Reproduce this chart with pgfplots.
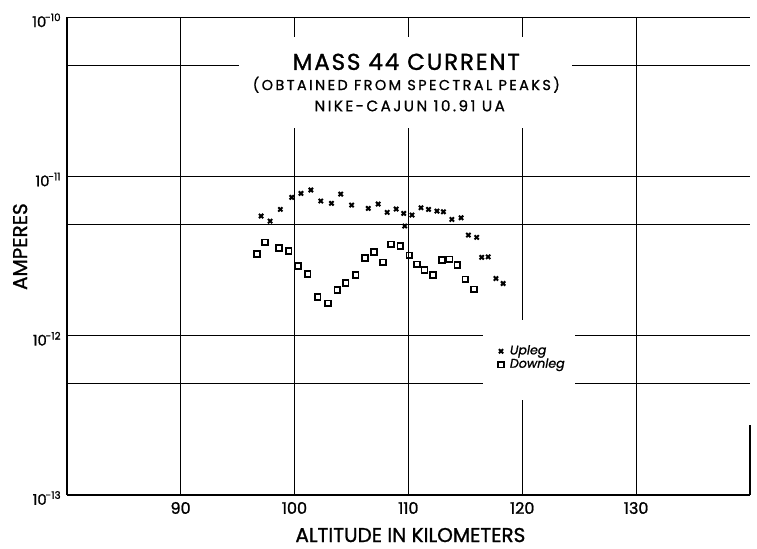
\documentclass[border=0pt]{standalone}
\usepackage{fontspec}
\setmainfont{Poppins}[FakeBold=1.2]
\newfontfamily\titlefont{Poppins}[FakeBold=1.2, LetterSpace=8]
\newfontfamily\subfont{Poppins}[FakeBold=1.0, LetterSpace=17]
\newfontfamily\nikefont{Poppins}[FakeBold=1.0, LetterSpace=16]
\usepackage{pgfplots}
\pgfplotsset{compat=1.18}
\usepackage{pgfplotstable}

% Mass 44 ion current, Nike-Cajun 10.91 UA
\pgfplotstableread{
alt current
97.07 5.65e-12
97.86 5.25e-12
98.76 6.22e-12
99.76 7.40e-12
100.57 7.84e-12
101.44 8.23e-12
102.31 7.02e-12
103.25 6.79e-12
104.06 7.76e-12
105.02 6.62e-12
106.48 6.31e-12
107.35 6.72e-12
108.14 5.96e-12
108.93 6.25e-12
109.59 5.87e-12
109.68 4.89e-12
110.32 5.73e-12
111.11 6.37e-12
111.77 6.22e-12
112.51 6.07e-12
113.08 6.01e-12
113.82 5.38e-12
114.63 5.51e-12
115.27 4.29e-12
116.00 4.15e-12
116.44 3.11e-12
117.01 3.13e-12
117.69 2.29e-12
118.32 2.13e-12
}\upleg

\pgfplotstableread{
alt current
96.72 3.26e-12
97.42 3.86e-12
98.65 3.56e-12
99.49 3.42e-12
100.33 2.74e-12
101.15 2.45e-12
102.03 1.75e-12
102.95 1.60e-12
103.77 1.94e-12
104.50 2.15e-12
105.37 2.41e-12
106.18 3.08e-12
106.97 3.37e-12
107.76 2.89e-12
108.49 3.75e-12
109.30 3.66e-12
110.09 3.20e-12
110.76 2.81e-12
111.42 2.59e-12
112.16 2.41e-12
112.94 2.99e-12
113.61 3.02e-12
114.31 2.79e-12
115.00 2.26e-12
115.76 1.96e-12
}\downleg

\newcommand{\dec}[1]{10\kern-0.6pt\textsuperscript{-#1}}

\begin{document}
\begin{tikzpicture}
\begin{axis}[
  scale only axis,
  width=341.65pt, height=238.85pt,
  ymode=log,
  xmin=80, xmax=140,
  ymin=1e-13, ymax=1e-10,
  axis x line*=bottom, axis y line*=left,
  axis line style={line width=0.85pt, -},
  xtick={90,100,110,120,130},
  ytick={1e-13,1e-12,1e-11,1e-10},
  yticklabels={\dec{13},\dec{12},\dec{11},\dec{10}},
  extra y ticks={5e-13,5e-12,5e-11},
  extra y tick labels={},
  extra y tick style={grid=major, major tick length=0pt},
  yminorticks=false,
  major tick length=0pt,
  grid=major,
  major grid style={black, line width=0.6pt},
  /pgf/number format/assume math mode=true,
  xticklabel style={font=\fontsize{8}{9}\selectfont, yshift=0pt},
  yticklabel style={font=\fontsize{7.4}{9}\selectfont, xshift=1pt, yshift=-1.5pt},
  xlabel={ALTITUDE IN KILOMETERS},
  ylabel={AMPERES},
  label style={font=\fontsize{7}{8}\selectfont},
  every axis x label/.style={at={(axis description cs:0.503,0)}, anchor=center, yshift=-20pt},
  every axis y label/.style={at={(axis description cs:0,0.52)}, rotate=90, anchor=center, yshift=23.3pt},
  legend style={at={(axis description cs:0.622,0.287)}, anchor=west,
    draw=none, fill=none, font=\fontsize{6.3}{6}\selectfont\itshape,
    row sep=-1.5pt, column sep=2pt, nodes={inner sep=1pt}},
  legend cell align=left,
  clip=false,
]
% white panels that interrupt the grid behind the title and the key
\fill[white] (axis cs:95.15,7.52e-11) rectangle (axis cs:124.4,2.02e-11);
\fill[white] (axis cs:116.55,1.256e-12) rectangle (axis cs:124.59,3.94e-13);
% fragment of the right-hand frame
\draw[line width=0.85pt] (axis cs:140,1e-13) -- (axis cs:140,2.75e-13);

\addplot[only marks, mark=x, mark size=1.5pt, line width=1pt, black]
  table[x=alt, y=current] {\upleg};
\addlegendentry{Upleg}
\addplot[only marks, mark=square, mark size=1.45pt, line width=0.85pt, black,
  mark options={fill=white}]
  table[x=alt, y=current] {\downleg};
\addlegendentry{Downleg}

\node[font=\titlefont\fontsize{11.5}{13}\selectfont] at (rel axis cs:0.497,0.907) {MASS 44 CURRENT};
\node[font=\subfont\fontsize{7.2}{8}\selectfont] at (rel axis cs:0.497,0.859) {(OBTAINED FROM SPECTRAL PEAKS)};
\node[font=\nikefont\fontsize{7.6}{9}\selectfont] at (rel axis cs:0.502,0.815) {NIKE-CAJUN 10.91 UA};

\coordinate (sw) at (rel axis cs:0,0);
\coordinate (ne) at (rel axis cs:1,1);
\end{axis}
\pgfresetboundingbox
\path[use as bounding box] ([shift={(-33.35pt,-27pt)}]sw) rectangle ([shift={(3.5pt,8.65pt)}]ne);
\end{tikzpicture}
\end{document}
